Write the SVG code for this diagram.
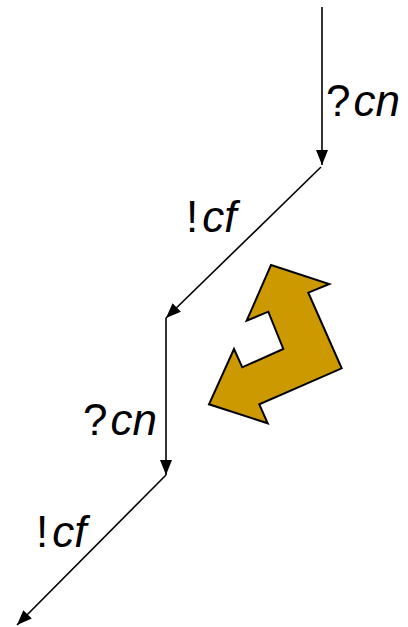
<svg xmlns="http://www.w3.org/2000/svg" width="408" height="627" viewBox="0 0 408 627">
<style>
.edge{stroke:#000;stroke-width:1.6;fill:none;marker-end:url(#ah)}
.lbl{font-family:"Liberation Sans",Arial,sans-serif;font-size:44px;fill:#000}
.it{font-style:italic}
.big{fill:#CC9900;stroke:#000;stroke-width:2;stroke-linejoin:miter}
</style>
<defs>
<marker id="ah" markerUnits="userSpaceOnUse" markerWidth="16" markerHeight="12" refX="15" refY="6" orient="auto">
<path d="M0,0 L15,6 L0,12 z" fill="#000"/>
</marker>
</defs>
<rect width="408" height="627" fill="#fff"/>
<g id="connectors">
<line class="edge" x1="322" y1="7" x2="322" y2="165"/>
<line class="edge" x1="321" y1="167" x2="166" y2="318"/>
<line class="edge" x1="166" y1="318" x2="166" y2="475"/>
<line class="edge" x1="166" y1="475" x2="17" y2="625"/>
</g>
<g id="label-1"><text class="lbl" x="326" y="116">?<tspan class="it" dx="3">cn</tspan></text></g>
<g id="label-2"><text class="lbl" x="186" y="232">!<tspan class="it" dx="4">cf</tspan></text></g>
<g id="label-3"><text class="lbl" x="83" y="435">?<tspan class="it" dx="3">cn</tspan></text></g>
<g id="label-4"><text class="lbl" x="36" y="547">!<tspan class="it" dx="4">cf</tspan></text></g>
<g id="arrow-shape">
<polygon class="big" points="271,265 329.3,284 308.3,292.7 341.7,368.3 259.3,404.3 267.7,423.3 209,404.3 234,349 242.3,367.3 283.3,349 268.3,311.7 246.7,320.7"/>
</g>
</svg>
